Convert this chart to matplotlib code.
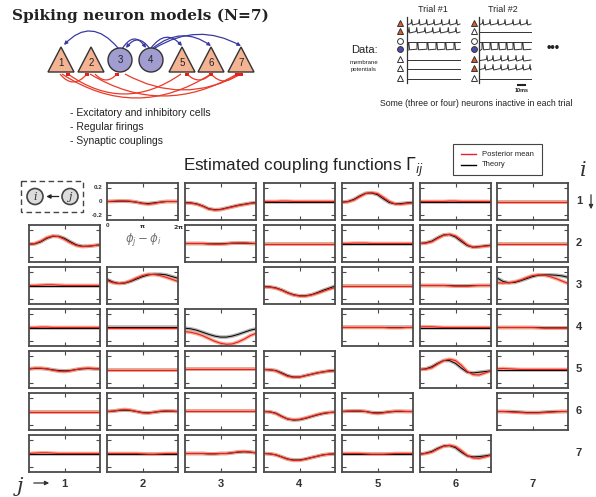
import numpy as np
import matplotlib
matplotlib.use('Agg')
import matplotlib.pyplot as plt
from matplotlib.patches import Polygon, Circle, Rectangle, FancyArrowPatch, PathPatch
from matplotlib.path import Path
import matplotlib.transforms as mtrans

plt.rcParams['font.family'] = ['Liberation Sans', 'DejaVu Sans']

# ---------------- data ----------------
# phase samples: 0, pi/6, ..., 2pi (13 points)
phase = np.linspace(0, 2 * np.pi, 13)
Z = [0.0] * 13

post_r1 = [None,
           [0, 0.005, 0.01, 0.01, 0.005, -0.01, -0.03, -0.04, -0.03, -0.01, 0.0, 0.0, 0.0],
           [-0.02, -0.025, -0.04, -0.07, -0.11, -0.125, -0.12, -0.1, -0.08, -0.06, -0.045, -0.03, -0.02],
           [0, 0, 0, 0.005, 0.005, 0, 0, 0, 0, 0, 0, 0, 0],
           [-0.01, -0.005, 0.02, 0.07, 0.115, 0.13, 0.115, 0.06, 0.0, -0.035, -0.04, -0.03, -0.02],
           [0, 0, 0, 0, 0, 0.005, 0.005, 0, 0, 0, 0, 0, 0],
           [0, 0, 0, 0, 0, 0, 0, 0, 0, 0, 0, 0, 0]]
theo_r1 = [None,
           [0, 0, 0.005, 0.005, 0, -0.01, -0.025, -0.03, -0.02, -0.01, 0, 0, 0],
           [-0.015, -0.02, -0.035, -0.065, -0.105, -0.12, -0.115, -0.095, -0.075, -0.055, -0.04, -0.025, -0.015],
           Z,
           [-0.01, 0.0, 0.03, 0.08, 0.12, 0.125, 0.1, 0.04, -0.015, -0.035, -0.03, -0.02, -0.015],
           Z, Z]

post_r2 = [[-0.01, 0.0, 0.035, 0.085, 0.11, 0.1, 0.06, 0.01, -0.03, -0.045, -0.04, -0.03, -0.02],
           None,
           [0, 0, 0, 0, -0.005, -0.01, -0.01, -0.005, 0.005, 0.01, 0.01, 0.005, 0],
           [0, 0, 0, 0, 0, 0, 0, 0, 0, 0, 0, 0, 0],
           [0, 0, 0.005, 0.005, 0.005, 0, 0, 0, 0, 0, 0, 0, 0],
           [0, 0.005, 0.025, 0.075, 0.12, 0.135, 0.11, 0.05, -0.02, -0.055, -0.05, -0.04, -0.03],
           [0, 0, 0, 0, 0, 0, 0, 0, 0, 0, 0, 0, 0]]
theo_r2 = [[-0.01, -0.005, 0.025, 0.075, 0.105, 0.105, 0.075, 0.025, -0.02, -0.04, -0.04, -0.03, -0.02],
           None,
           [0, 0, 0, 0, -0.005, -0.005, -0.005, 0, 0.005, 0.005, 0.005, 0, 0],
           Z, Z,
           [0, 0.01, 0.035, 0.085, 0.125, 0.13, 0.095, 0.03, -0.03, -0.055, -0.045, -0.035, -0.025],
           Z]

post_r3 = [[0, 0, 0.005, 0.01, 0.01, 0.005, 0, 0, 0, 0, 0, 0, 0],
           [0.07, 0.04, 0.03, 0.04, 0.07, 0.11, 0.145, 0.165, 0.16, 0.145, 0.12, 0.09, 0.06],
           None,
           [-0.02, -0.025, -0.04, -0.07, -0.11, -0.14, -0.155, -0.155, -0.14, -0.115, -0.085, -0.055, -0.03],
           [0, 0, 0, 0, 0, 0, 0, 0, 0, 0, 0, 0, 0],
           [0, 0, 0, 0, 0, -0.005, -0.01, -0.01, -0.01, -0.005, 0, 0, 0],
           [0.04, 0.035, 0.04, 0.055, 0.08, 0.115, 0.145, 0.155, 0.15, 0.13, 0.1, 0.065, 0.03]]
theo_r3 = [Z,
           [0.09, 0.05, 0.03, 0.035, 0.06, 0.095, 0.13, 0.155, 0.165, 0.165, 0.155, 0.13, 0.105],
           None,
           [-0.015, -0.02, -0.035, -0.065, -0.105, -0.135, -0.15, -0.15, -0.135, -0.105, -0.07, -0.04, -0.01],
           Z,
           [0, 0, 0, 0, 0, 0, -0.005, -0.005, -0.005, 0, 0, 0, 0],
           [0.11, 0.06, 0.04, 0.045, 0.07, 0.1, 0.13, 0.15, 0.155, 0.155, 0.15, 0.14, 0.12]]

post_r4 = [[0, 0, 0.005, 0.005, 0, 0, 0, 0, 0, 0, 0, 0, 0],
           [-0.005] * 13,
           [-0.06, -0.07, -0.09, -0.12, -0.16, -0.2, -0.23, -0.245, -0.24, -0.21, -0.17, -0.12, -0.085],
           None,
           [0, 0, 0, 0, 0, 0, 0, 0, -0.005, -0.005, -0.005, 0, 0],
           [0.01, 0.01, 0.01, 0.005, 0, 0, 0, 0, 0, 0, 0, 0, 0],
           [0, 0, 0, 0, 0, 0, 0, -0.005, -0.01, -0.01, -0.01, -0.01, -0.01]]
theo_r4 = [Z,
           [0.01] * 13,
           [-0.01, -0.02, -0.04, -0.07, -0.1, -0.125, -0.14, -0.14, -0.125, -0.1, -0.07, -0.04, -0.02],
           None,
           [0.005] * 13,
           Z,
           [0, 0, 0, 0, 0, 0, 0, 0, -0.005, -0.005, -0.005, -0.005, -0.005]]

post_r5 = [[0.01, 0.02, 0.02, 0.01, -0.01, -0.025, -0.03, -0.02, 0.0, 0.015, 0.02, 0.015, 0.01],
           [0, 0, 0, 0, 0, 0, 0, 0, 0, 0, 0, 0, 0],
           [0.01] * 13,
           [0, -0.005, -0.02, -0.06, -0.1, -0.115, -0.11, -0.09, -0.07, -0.05, -0.035, -0.025, -0.02],
           None,
           [0, 0.005, 0.025, 0.08, 0.13, 0.15, 0.13, 0.06, -0.03, -0.075, -0.08, -0.05, -0.02],
           [0.01, 0.015, 0.01, 0.005, 0, 0, 0, 0, 0, 0, 0, 0, 0]]
theo_r5 = [[0.01, 0.015, 0.015, 0.01, -0.005, -0.015, -0.02, -0.015, 0.0, 0.01, 0.015, 0.01, 0.01],
           Z,
           [0.005] * 13,
           [0, -0.005, -0.015, -0.05, -0.09, -0.11, -0.11, -0.09, -0.07, -0.05, -0.035, -0.02, -0.015],
           None,
           [0, 0.01, 0.04, 0.09, 0.13, 0.13, 0.09, 0.02, -0.04, -0.05, -0.04, -0.03, -0.02],
           Z]

post_r6 = [[0, 0, 0, 0, 0, 0, 0, 0, 0, 0, 0, 0, 0],
           [0, 0.005, 0.02, 0.03, 0.02, 0.0, -0.02, -0.025, -0.01, 0.005, 0.01, 0.005, 0],
           [0.005] * 13,
           [0, -0.005, -0.03, -0.075, -0.11, -0.12, -0.115, -0.095, -0.07, -0.045, -0.025, -0.015, -0.01],
           [0, 0.005, 0.01, 0.01, 0.0, -0.02, -0.03, -0.02, -0.005, 0.005, 0.005, 0, 0],
           None,
           [0, 0, -0.005, -0.01, -0.015, -0.02, -0.02, -0.02, -0.015, -0.01, -0.005, 0, 0]]
theo_r6 = [Z,
           [0, 0.005, 0.015, 0.02, 0.015, 0.0, -0.015, -0.02, -0.01, 0.0, 0.005, 0.005, 0],
           [0.008] * 13,
           [0, -0.005, -0.025, -0.07, -0.11, -0.125, -0.12, -0.1, -0.075, -0.05, -0.03, -0.015, -0.01],
           [0, 0.005, 0.005, 0.005, 0, -0.015, -0.02, -0.015, -0.005, 0, 0, 0, 0],
           None,
           [0, 0, 0, -0.005, -0.01, -0.015, -0.015, -0.015, -0.01, -0.005, 0, 0, 0]]

post_r7 = [[0, 0.005, 0.01, 0.01, 0.005, 0, 0, 0, 0, 0, 0, 0, 0],
           [0, 0, 0, 0, 0, 0, -0.005, -0.01, -0.01, -0.005, 0, 0, 0],
           [0, 0, 0, 0, -0.005, -0.005, 0, 0, 0.01, 0.025, 0.03, 0.02, 0.01],
           [0, -0.005, -0.02, -0.05, -0.085, -0.1, -0.1, -0.085, -0.06, -0.04, -0.02, -0.01, -0.005],
           [0, 0, 0, 0, -0.005, -0.01, -0.01, -0.01, -0.005, 0, 0, 0, 0],
           [-0.01, 0, 0.02, 0.065, 0.105, 0.12, 0.1, 0.04, -0.03, -0.065, -0.07, -0.05, -0.025],
           None]
theo_r7 = [Z, Z,
           [0, 0, 0, 0, -0.005, -0.005, 0, 0, 0.01, 0.02, 0.025, 0.02, 0.01],
           [0, -0.005, -0.02, -0.05, -0.08, -0.095, -0.095, -0.08, -0.06, -0.04, -0.02, -0.01, -0.005],
           Z,
           [-0.01, 0.005, 0.03, 0.075, 0.11, 0.115, 0.085, 0.02, -0.035, -0.05, -0.045, -0.035, -0.02],
           None]

posterior = [post_r1, post_r2, post_r3, post_r4, post_r5, post_r6, post_r7]
theory = [theo_r1, theo_r2, theo_r3, theo_r4, theo_r5, theo_r6, theo_r7]

neuron_labels = ['1', '2', '3', '4', '5', '6', '7']
neuron_types = ['E', 'E', 'I', 'I', 'E', 'E', 'E']

# data illustration (spike times in px-like time units)
trial1_active = {0: [411.7, 419.3, 426.7, 434, 441.7, 449.3, 456.7],
                 1: [409, 416.7, 425, 432.7, 440, 448.3, 456],
                 3: [408, 417, 427, 436, 445, 454]}
trial2_active = {0: [483, 490, 498, 505, 513, 520, 527],
                 3: [482, 490, 498, 506, 513, 522],
                 4: [487, 493, 501, 508, 516, 523],
                 5: [485, 493, 501, 508, 516, 523, 530]}

# ---------------- figure ----------------
W, H = 596, 497
fig = plt.figure(figsize=(W / 100, H / 100), dpi=100)
ov = fig.add_axes([0, 0, 1, 1])
ov.set_xlim(0, W)
ov.set_ylim(H, 0)
ov.axis('off')

RED = '#e8202a'
SALMON = '#f6a07e'
GREY = '#9a9a9a'
FRAME = '#4a4a4a'

col_x = [29, 107, 185, 264, 342, 420, 497]
row_y = [183, 225, 267, 309, 351, 393, 435]
pw, ph = 71, 37


def pax(x, y, w, h):
    return fig.add_axes([x / W, 1 - (y + h) / H, w / W, h / H])


for i in range(7):
    for j in range(7):
        p = posterior[i][j]
        if p is None or (i == 0 and j == 0):
            continue
        t = theory[i][j]
        ax = pax(col_x[j], row_y[i], pw, ph)
        ax.plot(phase, t, color=GREY, lw=2.6, alpha=0.75, solid_capstyle='butt')
        ax.plot(phase, p, color=SALMON, lw=2.6, alpha=0.85, solid_capstyle='butt')
        ax.plot(phase, t, color='black', lw=0.7)
        ax.plot(phase, p, color=RED, lw=0.8)
        ax.set_xlim(0, 2 * np.pi)
        ax.set_ylim(-0.27, 0.27)
        ax.set_xticks([np.pi])
        ax.set_yticks([-0.2, 0.2])
        ax.tick_params(direction='in', length=3, width=0.8, color=FRAME,
                       top=True, right=True, labelbottom=False, labelleft=False)
        for s in ax.spines.values():
            s.set_color(FRAME)
            s.set_linewidth(1.3)
        if i == 0 and j == 1:
            tr = mtrans.blended_transform_factory(ax.transAxes, ax.transData)
            for v, lab in [(0.2, '0.2'), (0.0, '0'), (-0.2, '-0.2')]:
                ax.text(-0.06, v, lab, transform=tr, ha='right', va='center',
                        fontsize=4.5, fontweight='bold', color='#333333')
            for xv, lab in [(0.0, '0'), (0.5, r'$\mathbf{\pi}$'), (1.0, r'$\mathbf{2\pi}$')]:
                ax.text(xv, -0.08, lab, transform=ax.transAxes, ha='center', va='top',
                        fontsize=4.5, fontweight='bold', color='#333333')

# x-axis label under panel (1,2)
ov.text(143, 239, r'$\phi_j - \phi_i$', fontsize=8.5, color='#777777', ha='center', va='center')

# i <- j diagram
ov.add_patch(Rectangle((21, 181), 62, 31, fill=False, ls=(0, (4, 2.5)), lw=1.0, ec='#444444'))
for cx, lab in [(35, 'i'), (70, 'j')]:
    ov.add_patch(Circle((cx, 196.5), 8, fc='#dcdcdc', ec='#444444', lw=1.2))
    ov.text(cx, 197, lab, fontsize=8, style='italic', family='DejaVu Serif',
            ha='center', va='center', color='#333333')
ov.annotate('', xy=(43.5, 196.5), xytext=(61.5, 196.5),
            arrowprops=dict(arrowstyle='-|>', color='#222222', lw=0.9, mutation_scale=6))

# title of panel grid
ov.text(304, 167, r'Estimated coupling functions $\Gamma_{ij}$', fontsize=12.3,
        ha='center', va='center', color='#222222')

# legend box
ov.add_patch(Rectangle((453, 144), 89, 31, fill=False, ec='#444444', lw=0.8))
ov.plot([461, 476], [154, 154], color=RED, lw=1.0)
ov.plot([461, 476], [165, 165], color='black', lw=1.0)
ov.text(482, 154, 'Posterior mean', fontsize=5.5, va='center', color='#222222')
ov.text(482, 165, 'Theory', fontsize=5.5, va='center', color='#222222')

# row / column labels
for j in range(7):
    ov.text(col_x[j] + pw / 2, 484, neuron_labels[j], fontsize=8, fontweight='bold',
            ha='center', va='center', color='#333333')
for i in range(7):
    ov.text(579, row_y[i] + ph / 2, neuron_labels[i], fontsize=8, fontweight='bold',
            ha='center', va='center', color='#333333')
ov.annotate('', xy=(591, 212), xytext=(591, 192),
            arrowprops=dict(arrowstyle='-|>', color='#333333', lw=0.9, mutation_scale=6))
ov.text(583, 171, 'i', fontsize=15, style='italic', family='DejaVu Serif',
        ha='center', va='center', color='#333333')
ov.text(20, 486, 'j', fontsize=15, style='italic', family='DejaVu Serif',
        ha='center', va='center', color='#333333')
ov.annotate('', xy=(52, 483), xytext=(31, 483),
            arrowprops=dict(arrowstyle='-|>', color='#333333', lw=0.9, mutation_scale=6))

# ---------------- top-left: network ----------------
ov.text(12, 16, 'Spiking neuron models (N=7)', fontsize=11.1, fontweight='heavy',
        family='DejaVu Serif', ha='left', va='center', color='#222222')

node_x = [61, 91, 120, 151, 182, 211, 241]
TRI = '#f4b393'
CIRC = '#a19dd0'
for k in range(7):
    cx = node_x[k]
    if neuron_types[k] == 'E':
        ov.add_patch(Polygon([[cx, 47], [cx - 13, 72], [cx + 13, 72]], closed=True,
                             fc=TRI, ec='#333333', lw=1.0, zorder=3))
        ov.text(cx, 63, neuron_labels[k], fontsize=7, ha='center', va='center', zorder=4, color='#222222')
    else:
        ov.add_patch(Circle((cx, 60), 12, fc=CIRC, ec='#333333', lw=1.0, zorder=3))
        ov.text(cx, 60, neuron_labels[k], fontsize=7, ha='center', va='center', zorder=4, color='#222222')

BLUE = '#3a3aa2'
# (start, control, end) of quadratic curves, in pixel coordinates
blue_links = [((118, 48), (91, 16), (64, 45)), ((122, 49), (134, 30), (146, 48)),
              ((150, 49), (138, 32), (126, 48)), ((151, 48), (166, 28), (182, 46)),
              ((153, 48), (182, 25), (211, 46)), ((155, 48), (198, 22), (241, 46))]
for a, c, b in blue_links:
    pth = Path([a, c, b], [Path.MOVETO, Path.CURVE3, Path.CURVE3])
    ov.add_patch(FancyArrowPatch(path=pth, arrowstyle='-|>', mutation_scale=5,
                                 color=BLUE, lw=0.9, zorder=2))

RLINK = '#ea3a2a'
red_links = [((60, 74), (73, 90), (87, 74)), ((62, 74), (136, 122), (211, 74)),
             ((95, 74), (106, 86), (117, 74)), ((90, 74), (163, 118), (237, 74)),
             ((181, 74), (124, 114), (68, 74)), ((211, 74), (199, 86), (187, 74)),
             ((211, 74), (224, 88), (237, 74)), ((125, 74), (183, 106), (241, 74))]
for a, c, b in red_links:
    pth = Path([a, c, b], [Path.MOVETO, Path.CURVE3, Path.CURVE3])
    ov.add_patch(PathPatch(pth, fill=False, ec=RLINK, lw=0.9, zorder=2))
    ov.add_patch(Rectangle((b[0] - 2, b[1] - 1.5), 4, 3.5, fc='#e8201a', ec='none', zorder=4))

for k, s in enumerate(['- Excitatory and inhibitory cells', '- Regular firings', '- Synaptic couplings']):
    ov.text(70, 113 + 14 * k, s, fontsize=7.5, ha='left', va='center', color='#222222')

# ---------------- top-right: data ----------------
rows = [23, 31, 41, 49, 59, 68, 78]
ORANGE = '#e05a2a'
MBLUE = '#4b4bb0'
trial_defs = [(400, 407, 460, trial1_active, 'Trial #1', 433),
              (474, 479, 531, trial2_active, 'Trial #2', 503)]
for mx, lx, rx, active, title, tx in trial_defs:
    ov.text(tx, 10, title, fontsize=6.5, ha='center', va='center', color='#222222')
    ov.plot([lx, lx], [17, 83], color='#333333', lw=0.9)
    for r in range(7):
        y = rows[r]
        filled = r in active
        if neuron_types[r] == 'E':
            ov.plot(mx, y, marker='^', ms=5, mfc=(ORANGE if filled else 'white'),
                    mec='#333333', mew=0.7)
        else:
            ov.plot(mx, y, marker='o', ms=4.2, mfc=(MBLUE if filled else 'white'),
                    mec='#333333', mew=0.7)
        if not filled:
            ov.plot([lx + 1, rx], [y + 1, y + 1], color='#333333', lw=0.7)
            continue
        sp = active[r]
        xs, ys = [lx + 1], [y + 1.5]
        if neuron_types[r] == 'E':
            for s in sp:
                xs += [s - 0.6, s, s + 0.7]
                ys += [y + 0.5, y - 3.5, y + 2]
            xs.append(rx)
            ys.append(y + 1)
        else:
            for s in sp:
                xs += [s, s, s + 0.8, s + 1.6]
                ys += [y + 0.2, y - 6.5, y - 6.5, y + 0.8]
            xs.append(rx)
            ys.append(y + 0.3)
        ov.plot(xs, ys, color='#333333', lw=0.7)

ov.text(364, 50, 'Data:', fontsize=8, ha='center', va='center', color='#222222')
ov.text(364, 62, 'membrane', fontsize=4.3, ha='center', va='center', color='#222222')
ov.text(364, 70, 'potentials', fontsize=4.3, ha='center', va='center', color='#222222')
ov.text(553, 48, '•••', fontsize=9, fontweight='bold', ha='center', va='center', color='#222222')
ov.plot([518, 525], [85, 85], color='#222222', lw=1.5)
ov.text(521.5, 90.5, '10ms', fontsize=4, fontweight='bold', ha='center', va='center', color='#222222')
ov.text(476, 103, 'Some (three or four) neurons inactive in each trial', fontsize=6.3,
        ha='center', va='center', color='#222222')

fig.savefig('out.png', dpi=100)
